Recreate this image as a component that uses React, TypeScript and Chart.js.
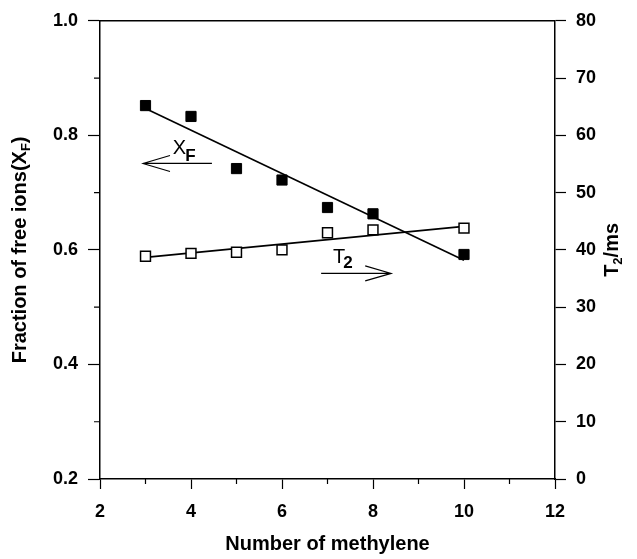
import React, { useEffect, useRef } from 'react';
import { Chart, registerables } from 'chart.js';

Chart.register(...registerables);

// ---- data ----
const methylene = [3, 4, 5, 6, 7, 8, 10];
const fractionFree = [0.852, 0.833, 0.742, 0.722, 0.674, 0.663, 0.592];
const t2Values = [38.9, 39.4, 39.6, 40.0, 43.0, 43.5, 43.8];
const fitX = [3, 10];
const fractionFit = [0.847, 0.582];
const t2Fit = [38.7, 44.1];
const xMinorTicks = [3, 5, 7, 9, 11];
const leftMinorTicks = [0.3, 0.5, 0.7, 0.9];
// annotation anchors (data coordinates, left axis)
const xfArrowX = [4.46, 2.945];
const xfArrowY = [0.751];
const xfLabelPos = [3.6, 0.768];
const t2ArrowX = [6.86, 8.4];
const t2ArrowY = [0.559];
const t2LabelPos = [7.12, 0.5765];

const FONT = '"Liberation Sans", Arial, Helvetica, sans-serif';
const INK = '#000';
const W = 'bold';

function drawArrow(ctx: CanvasRenderingContext2D, x1: number, y1: number, x2: number, y2: number, len: number, half: number) {
  const dir = Math.sign(x2 - x1);
  ctx.beginPath();
  ctx.moveTo(x1, y1);
  ctx.lineTo(x2, y2);
  ctx.moveTo(x2 - dir * len, y2 - half);
  ctx.lineTo(x2, y2);
  ctx.lineTo(x2 - dir * len, y2 + half);
  ctx.stroke();
}

const decorPlugin = {
  id: 'decor',
  afterDraw(chart: any) {
    const ctx: CanvasRenderingContext2D = chart.ctx;
    const { left, right, top, bottom } = chart.chartArea;
    const xs = chart.scales.x;
    const ys = chart.scales.y;
    ctx.save();
    ctx.strokeStyle = INK;
    ctx.fillStyle = INK;
    // top frame
    ctx.lineWidth = 1.5;
    ctx.beginPath();
    ctx.moveTo(left, top);
    ctx.lineTo(right, top);
    ctx.stroke();
    // minor ticks
    ctx.lineWidth = 1.2;
    ctx.beginPath();
    xMinorTicks.forEach((v) => {
      const px = xs.getPixelForValue(v);
      ctx.moveTo(px, bottom);
      ctx.lineTo(px, bottom + 5);
    });
    leftMinorTicks.forEach((v) => {
      const py = ys.getPixelForValue(v);
      ctx.moveTo(left, py);
      ctx.lineTo(left - 6, py);
    });
    ctx.stroke();

    // axis titles
    const big = `${W} 20px ${FONT}`;
    const small = `${W} 13px ${FONT}`;
    ctx.textBaseline = 'middle';
    ctx.font = big;
    ctx.textAlign = 'center';
    ctx.fillText('Number of methylene', (left + right) / 2, 544);

    // left title with subscript
    const mainL = 'Fraction of free ions(X';
    const subL = 'F';
    const endL = ')';
    ctx.font = big;
    const wMain = ctx.measureText(mainL).width;
    const wEnd = ctx.measureText(endL).width;
    ctx.font = small;
    const wSub = ctx.measureText(subL).width;
    const totalL = wMain + wSub + wEnd;
    ctx.save();
    ctx.translate(19, (top + bottom) / 2);
    ctx.rotate(-Math.PI / 2);
    ctx.textAlign = 'left';
    ctx.textBaseline = 'alphabetic';
    let cx = -totalL / 2;
    ctx.font = big;
    ctx.fillText(mainL, cx, 7);
    cx += wMain;
    ctx.font = small;
    ctx.fillText(subL, cx, 11);
    cx += wSub;
    ctx.font = big;
    ctx.fillText(endL, cx, 7);
    ctx.restore();

    // right title with subscript
    ctx.save();
    ctx.translate(611, (top + bottom) / 2);
    ctx.rotate(-Math.PI / 2);
    ctx.textAlign = 'left';
    ctx.textBaseline = 'alphabetic';
    ctx.font = big;
    const wT = ctx.measureText('T').width;
    const wMs = ctx.measureText('/ms').width;
    ctx.font = small;
    const w2 = ctx.measureText('2').width;
    let rx = -(wT + w2 + wMs) / 2;
    ctx.font = big;
    ctx.fillText('T', rx, 7);
    rx += wT;
    ctx.font = small;
    ctx.fillText('2', rx, 11);
    rx += w2;
    ctx.font = big;
    ctx.fillText('/ms', rx, 7);
    ctx.restore();

    // annotations
    ctx.lineWidth = 1.1;
    const ay = ys.getPixelForValue(xfArrowY[0]);
    drawArrow(ctx, xs.getPixelForValue(xfArrowX[0]), ay, xs.getPixelForValue(xfArrowX[1]), ay, 27, 8);
    const by = ys.getPixelForValue(t2ArrowY[0]);
    drawArrow(ctx, xs.getPixelForValue(t2ArrowX[0]), by, xs.getPixelForValue(t2ArrowX[1]), by, 26, 7.5);

    ctx.textAlign = 'left';
    ctx.textBaseline = 'alphabetic';
    const lx = xs.getPixelForValue(xfLabelPos[0]);
    const ly = ys.getPixelForValue(xfLabelPos[1]);
    ctx.font = `20px ${FONT}`;
    ctx.fillText('X', lx, ly);
    const wX = ctx.measureText('X').width;
    ctx.font = `bold 17px ${FONT}`;
    ctx.fillText('F', lx + wX - 1, ly + 7);

    const tx = xs.getPixelForValue(t2LabelPos[0]);
    const ty = ys.getPixelForValue(t2LabelPos[1]);
    ctx.font = `20px ${FONT}`;
    ctx.fillText('T', tx, ty);
    const wT2 = ctx.measureText('T').width;
    ctx.font = `bold 17px ${FONT}`;
    ctx.fillText('2', tx + wT2 - 2, ty + 5);

    ctx.restore();
  },
};

export default function App() {
  const canvasRef = useRef<HTMLCanvasElement | null>(null);

  useEffect(() => {
    document.body.style.margin = '0';
    const canvas = canvasRef.current;
    if (!canvas) return;

    const tickFont = { family: FONT, size: 18, weight: W };

    const chart = new Chart(canvas, {
      type: 'scatter',
      data: {
        datasets: [
          {
            label: 'XF',
            data: methylene.map((x, i) => ({ x, y: fractionFree[i] })),
            yAxisID: 'y',
            pointStyle: 'rect',
            pointRadius: 7.2,
            backgroundColor: '#000',
            borderColor: '#000',
            borderWidth: 1,
            showLine: false,
            order: 1,
          },
          {
            label: 'T2',
            data: methylene.map((x, i) => ({ x, y: t2Values[i] })),
            yAxisID: 'y2',
            pointStyle: 'rect',
            pointRadius: 7,
            backgroundColor: '#fff',
            borderColor: '#000',
            borderWidth: 1.5,
            showLine: false,
            order: 1,
          },
          {
            label: 'XF fit',
            data: fitX.map((x, i) => ({ x, y: fractionFit[i] })),
            yAxisID: 'y',
            showLine: true,
            pointRadius: 0,
            borderColor: '#000',
            borderWidth: 1.6,
            order: 2,
          },
          {
            label: 'T2 fit',
            data: fitX.map((x, i) => ({ x, y: t2Fit[i] })),
            yAxisID: 'y2',
            showLine: true,
            pointRadius: 0,
            borderColor: '#000',
            borderWidth: 1.6,
            order: 2,
          },
        ],
      },
      options: {
        animation: false,
        responsive: false,
        devicePixelRatio: 1,
        layout: { padding: { top: 20, left: 0, right: 0, bottom: 0 } },
        plugins: { legend: { display: false }, tooltip: { enabled: false } },
        events: [],
        scales: {
          x: {
            type: 'linear',
            min: 2,
            max: 12,
            afterFit: (s: any) => { s.height = 80; },
            ticks: { stepSize: 2, color: INK, font: tickFont, padding: 12 },
            grid: { drawOnChartArea: false, tickLength: 10, tickColor: INK, tickWidth: 1.2 },
            border: { display: true, color: INK, width: 1.5 },
          },
          y: {
            type: 'linear',
            position: 'left',
            min: 0.2,
            max: 1.0,
            afterFit: (s: any) => { s.width = 100; },
            ticks: {
              stepSize: 0.2,
              color: INK,
              font: tickFont,
              padding: 10,
              callback: (v: any) => Number(v).toFixed(1),
            },
            grid: { drawOnChartArea: false, tickLength: 12, tickColor: INK, tickWidth: 1.2 },
            border: { display: true, color: INK, width: 1.5 },
          },
          y2: {
            type: 'linear',
            position: 'right',
            min: 0,
            max: 80,
            afterFit: (s: any) => { s.width = 82; },
            ticks: { stepSize: 10, color: INK, font: tickFont, padding: 10 },
            grid: { drawOnChartArea: false, tickLength: 11, tickColor: INK, tickWidth: 1.2 },
            border: { display: true, color: INK, width: 1.5 },
          },
        },
      },
      plugins: [decorPlugin],
    } as any);

    return () => chart.destroy();
  }, []);

  return (
    <canvas
      ref={canvasRef}
      width={637}
      height={559}
      style={{ display: 'block', width: 637, height: 559 }}
    />
  );
}
